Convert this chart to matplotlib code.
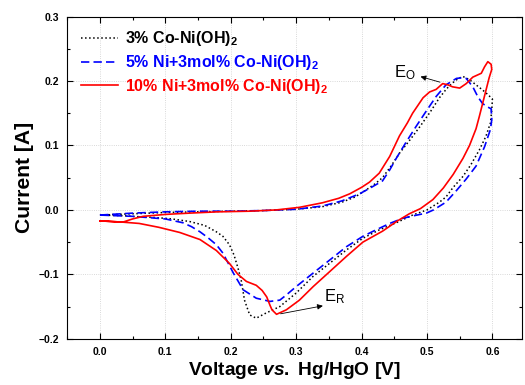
import matplotlib
matplotlib.use("Agg")
import matplotlib.pyplot as plt
from matplotlib.ticker import MultipleLocator

plt.rcParams['font.family'] = ['Liberation Sans', 'DejaVu Sans']
plt.rcParams['mathtext.fontset'] = 'custom'
plt.rcParams['mathtext.rm'] = 'Liberation Sans:bold'
plt.rcParams['mathtext.bf'] = 'Liberation Sans:bold'
plt.rcParams['mathtext.it'] = 'Liberation Sans:italic:bold'
plt.rcParams['mathtext.default'] = 'bf'

# ---- data (closed CV loops, start at 0 V) ----
v_3co = [0.000, 0.050, 0.100, 0.150, 0.200, 0.250, 0.300, 0.340, 0.370, 0.390, 0.407, 0.420, 0.432,
         0.445, 0.458, 0.475, 0.489, 0.505, 0.519, 0.530, 0.539, 0.548, 0.555, 0.565, 0.575, 0.585,
         0.593, 0.600, 0.599, 0.597, 0.590, 0.580, 0.567, 0.555, 0.540, 0.529, 0.519, 0.500, 0.478,
         0.455, 0.427, 0.402, 0.377, 0.351, 0.326, 0.300, 0.275, 0.254, 0.239, 0.229, 0.221, 0.216,
         0.211, 0.205, 0.198, 0.188, 0.178, 0.160, 0.137, 0.110, 0.087, 0.050, 0.036, 0.000]
i_3co = [-0.008, -0.006, -0.004, -0.003, -0.002, -0.001, 0.001, 0.005, 0.012, 0.020, 0.031, 0.040, 0.050,
         0.068, 0.088, 0.110, 0.129, 0.152, 0.174, 0.188, 0.197, 0.204, 0.207, 0.202, 0.194, 0.186,
         0.179, 0.172, 0.155, 0.135, 0.114, 0.093, 0.070, 0.052, 0.035, 0.020, 0.012, 0.000, -0.008,
         -0.019, -0.031, -0.044, -0.062, -0.083, -0.103, -0.129, -0.150, -0.160, -0.168, -0.163, -0.140, -0.109,
         -0.090, -0.070, -0.054, -0.041, -0.034, -0.024, -0.018, -0.014, -0.012, -0.010, -0.009, -0.008]

v_5ni = [0.000, 0.050, 0.100, 0.150, 0.200, 0.250, 0.300, 0.340, 0.370, 0.397, 0.415, 0.432, 0.443,
         0.453, 0.468, 0.483, 0.498, 0.514, 0.529, 0.545, 0.553, 0.560, 0.570, 0.578, 0.585, 0.592,
         0.598, 0.599, 0.597, 0.588, 0.575, 0.560, 0.545, 0.529, 0.510, 0.499, 0.480, 0.463, 0.443,
         0.422, 0.402, 0.377, 0.351, 0.326, 0.300, 0.285, 0.275, 0.260, 0.239, 0.219, 0.204, 0.188,
         0.178, 0.165, 0.153, 0.140, 0.127, 0.100, 0.087, 0.050, 0.000]
i_5ni = [-0.008, -0.005, -0.003, -0.002, -0.002, -0.001, 0.001, 0.006, 0.014, 0.025, 0.035, 0.045, 0.062,
         0.080, 0.105, 0.129, 0.152, 0.176, 0.194, 0.204, 0.205, 0.204, 0.191, 0.175, 0.165, 0.160,
         0.157, 0.140, 0.125, 0.098, 0.068, 0.048, 0.030, 0.012, 0.000, -0.005, -0.009, -0.013, -0.021,
         -0.031, -0.041, -0.057, -0.078, -0.098, -0.119, -0.132, -0.140, -0.142, -0.137, -0.124, -0.098, -0.067,
         -0.054, -0.043, -0.034, -0.026, -0.020, -0.014, -0.013, -0.010, -0.008]

v_10ni = [0.000, 0.035, 0.050, 0.066, 0.100, 0.137, 0.180, 0.229, 0.270, 0.305, 0.340, 0.365, 0.382,
          0.400, 0.412, 0.427, 0.443, 0.458, 0.470, 0.478, 0.494, 0.504, 0.514, 0.524, 0.532, 0.539,
          0.550, 0.560, 0.570, 0.583, 0.588, 0.593, 0.598, 0.599, 0.595, 0.590, 0.585, 0.580, 0.575,
          0.565, 0.555, 0.540, 0.525, 0.509, 0.490, 0.473, 0.455, 0.432, 0.402, 0.377, 0.351, 0.326,
          0.305, 0.285, 0.270, 0.263, 0.260, 0.255, 0.248, 0.239, 0.224, 0.211, 0.198, 0.178, 0.153,
          0.122, 0.090, 0.060, 0.035, 0.000]
i_10ni = [-0.017, -0.019, -0.014, -0.010, -0.007, -0.005, -0.003, -0.002, 0.000, 0.004, 0.011, 0.018, 0.025,
          0.035, 0.043, 0.057, 0.083, 0.115, 0.135, 0.150, 0.174, 0.183, 0.187, 0.196, 0.194, 0.191,
          0.189, 0.196, 0.206, 0.212, 0.222, 0.230, 0.226, 0.218, 0.205, 0.185, 0.165, 0.145, 0.126,
          0.100, 0.080, 0.055, 0.034, 0.016, 0.002, -0.006, -0.017, -0.033, -0.050, -0.072, -0.096, -0.119,
          -0.140, -0.155, -0.162, -0.155, -0.148, -0.135, -0.125, -0.117, -0.111, -0.100, -0.083, -0.063, -0.046,
          -0.035, -0.027, -0.021, -0.019, -0.017]

labels = ['3% Co-Ni(OH)$_2$', '5% Ni+3mol% Co-Ni(OH)$_2$', '10% Ni+3mol% Co-Ni(OH)$_2$']
colors = ['black', '#0000FF', '#FF0000']

fig = plt.figure(figsize=(5.25, 3.85), dpi=100)
ax = fig.add_axes([0.128, 0.12, 0.866, 0.837])

ax.plot(v_3co, i_3co, color=colors[0], ls=':', lw=1.1, label=labels[0])
ax.plot(v_5ni, i_5ni, color=colors[1], ls=(0, (5, 2.5)), lw=1.2, label=labels[1])
ax.plot(v_10ni, i_10ni, color=colors[2], ls='-', lw=1.2, label=labels[2])

ax.set_xlim(-0.05, 0.645)
ax.set_ylim(-0.2, 0.3)
ax.xaxis.set_major_locator(MultipleLocator(0.1))
ax.xaxis.set_minor_locator(MultipleLocator(0.05))
ax.yaxis.set_major_locator(MultipleLocator(0.1))
ax.yaxis.set_minor_locator(MultipleLocator(0.05))
ax.set_xticks([0.0, 0.1, 0.2, 0.3, 0.4, 0.5, 0.6])
ax.tick_params(which='both', direction='in', top=True, right=True, labelsize=7.5, pad=6)
ax.tick_params(which='major', length=4, width=0.8)
ax.tick_params(which='minor', length=2, width=0.8)
for lab in ax.get_xticklabels() + ax.get_yticklabels():
    lab.set_fontweight('bold')
ax.grid(True, which='major', ls=':', lw=0.6, color='#cccccc')

ax.set_xlabel('Voltage $\\mathit{vs.}$ Hg/HgO [V]', fontsize=13.8, fontweight='bold', labelpad=2)
ax.set_ylabel('Current [A]', fontsize=15.2, fontweight='bold', labelpad=3)

leg = ax.legend(loc='upper left', bbox_to_anchor=(0.01, 0.99), frameon=False,
                prop={'weight': 'bold', 'size': 11.5}, handlelength=2.3, handletextpad=0.45,
                labelspacing=0.3, borderaxespad=0.2)
for txt, c in zip(leg.get_texts(), colors):
    txt.set_color(c)

# peak markers
ax.annotate('', xy=(0.486, 0.208), xytext=(0.524, 0.197),
            arrowprops=dict(arrowstyle='-|>', color='black', lw=0.6, mutation_scale=8))
ax.text(0.466, 0.213, '$\\mathregular{E_O}$', fontsize=12, ha='center', va='center')
ax.annotate('', xy=(0.345, -0.148), xytext=(0.272, -0.162),
            arrowprops=dict(arrowstyle='-|>', color='black', lw=0.6, mutation_scale=8))
ax.text(0.358, -0.135, '$\\mathregular{E_R}$', fontsize=12, ha='center', va='center')

fig.savefig('out.png', dpi=100)
